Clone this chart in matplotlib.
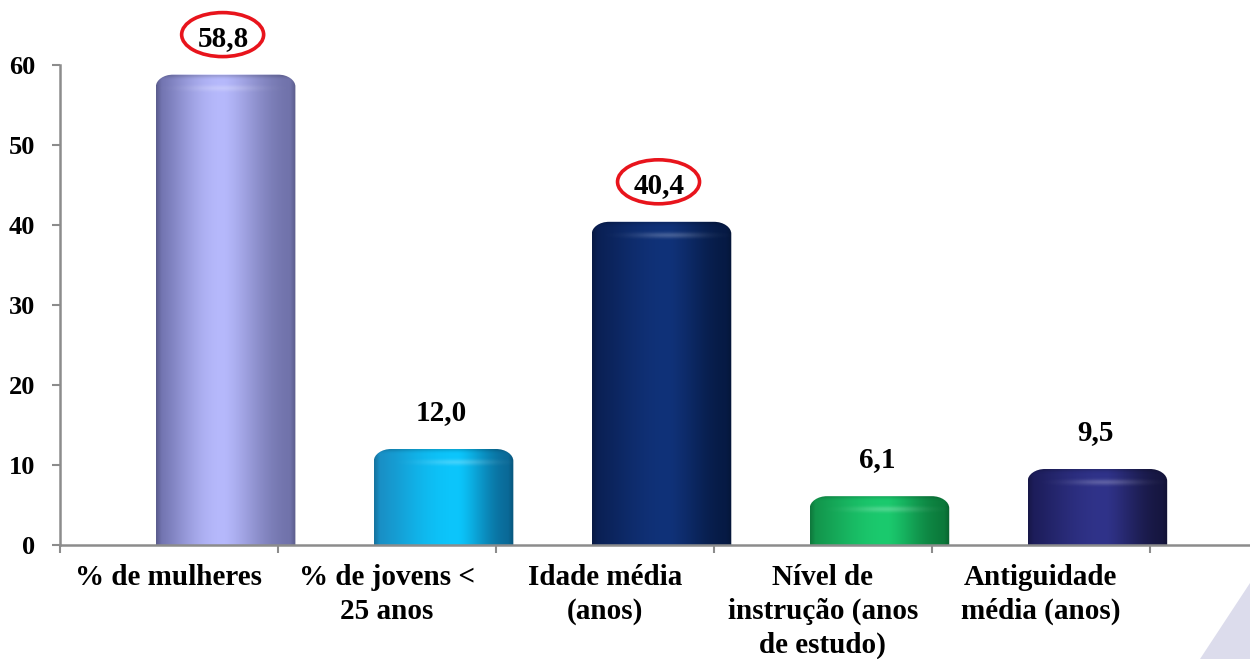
import numpy as np
import matplotlib
matplotlib.use("Agg")
import matplotlib.pyplot as plt
from matplotlib.path import Path
from matplotlib.patches import PathPatch, Ellipse, Polygon
from matplotlib.colors import to_rgb
from matplotlib.transforms import ScaledTranslation

# ---------------- data ----------------
categories = ["% de mulheres", "% de jovens <\n25 anos", "Idade média\n(anos)",
              "Nível de\ninstrução (anos\nde estudo)", "Antiguidade\nmédia (anos)"]
values = [58.8, 12.0, 40.4, 6.1, 9.5]
value_labels = ["58,8", "12,0", "40,4", "6,1", "9,5"]
highlighted = [True, False, True, False, False]
yticks = [0, 10, 20, 30, 40, 50, 60]

# ---------------- styles ----------------
# (left edge, highlight, right edge, highlight position)
bar_colors = [
    ("#6e70ac", "#b6b9fc", "#7072aa", 0.48),
    ("#1a8cc2", "#0cc6fc", "#0a6896", 0.6),
    ("#0a1f52", "#103279", "#061a44", 0.55),
    ("#12924a", "#1bca6e", "#0b783a", 0.55),
    ("#1c1c58", "#30338a", "#16163f", 0.55),
]

plt.rcParams['font.family'] = ['Liberation Serif', 'DejaVu Serif']
plt.rcParams['font.weight'] = 'bold'

fig = plt.figure(figsize=(12.5, 6.59), dpi=100)
ax = fig.add_axes([60 / 1250, 1 - 545 / 659, 1 - 60 / 1250, 480 / 659])

ax.set_xlim(-0.5, 4.96)
ax.set_ylim(0, 60)

bar_w = 0.64
shift = 0.26
rx, ry = 0.08, 1.5


def profile(left, mid, right, peak, n=256):
    t = np.linspace(0, 1, n)
    L, M, R = (np.array(to_rgb(c)) for c in (left, mid, right))
    out = np.zeros((n, 3))
    for i, ti in enumerate(t):
        if ti <= peak:
            s = ti / peak
            s = np.sin(s * np.pi / 2) ** 1.3
            out[i] = L + (M - L) * s
        else:
            s = (ti - peak) / (1 - peak)
            s = np.sin(s * np.pi / 2) ** 1.4
            out[i] = M + (R - M) * s
    edge = np.clip(1 - np.minimum(t, 1 - t) / 0.04, 0, 1)
    out = out * (1 - 0.18 * edge[:, None])
    return out


for i, v in enumerate(values):
    c = i + shift
    x0, x1 = c - bar_w / 2, c + bar_w / 2
    verts = [
        (x0, 0), (x0, v - ry),
        (x0, v - ry * 0.45), (x0 + rx * 0.45, v), (x0 + rx, v),
        (x1 - rx, v),
        (x1 - rx * 0.45, v), (x1, v - ry * 0.45), (x1, v - ry),
        (x1, 0), (x0, 0),
    ]
    codes = [Path.MOVETO, Path.LINETO,
             Path.CURVE4, Path.CURVE4, Path.CURVE4,
             Path.LINETO,
             Path.CURVE4, Path.CURVE4, Path.CURVE4,
             Path.LINETO, Path.CLOSEPOLY]
    path = Path(verts, codes)
    patch = PathPatch(path, facecolor='none', edgecolor='none', zorder=2)
    ax.add_patch(patch)

    grad = profile(*bar_colors[i])[None, :, :]
    im = ax.imshow(grad, extent=(x0, x1, 0, v), aspect='auto',
                   interpolation='bilinear', zorder=2, origin='lower')
    im.set_clip_path(patch)

    # cap highlight (a soft lighter band near the top)
    H, W = 40, 200
    yy = np.linspace(0, 1, H)[:, None]
    xx = np.linspace(0, 1, W)[None, :]
    band = np.exp(-((yy - 0.45) / 0.12) ** 2)
    horiz = np.exp(-((xx - bar_colors[i][3]) / 0.25) ** 2)
    top_dark = np.exp(-((yy - 1.0) / 0.1) ** 2)
    cap = np.zeros((H, W, 4))
    cap[..., :3] = 1.0
    cap[..., 3] = 0.22 * band * horiz
    cap_h = 3.0
    im2 = ax.imshow(cap, extent=(x0, x1, v - cap_h, v), aspect='auto',
                    interpolation='bilinear', zorder=3, origin='lower')
    im2.set_clip_path(patch)
    capd = np.zeros((H, W, 4))
    capd[..., 3] = 0.15 * top_dark * np.ones_like(xx)
    im3 = ax.imshow(capd, extent=(x0, x1, v - cap_h, v), aspect='auto',
                    interpolation='bilinear', zorder=3, origin='lower')
    im3.set_clip_path(patch)

    # value labels
    ax.annotate(value_labels[i], xy=(c, v), xytext=(-2, 29),
                textcoords='offset pixels', ha='center', va='baseline',
                fontsize=21, fontweight='bold', color='black',
                annotation_clip=False, zorder=5)
    if highlighted[i]:
        tr = fig.dpi_scale_trans + ScaledTranslation(c, v, ax.transData)
        e = Ellipse((-0.03, 0.40), 0.82, 0.44, transform=tr, fill=False,
                    edgecolor='#e8141c', linewidth=2.6, clip_on=False, zorder=5)
        fig.add_artist(e)

ax.set_xlim(-0.5, 4.96)
ax.set_ylim(0, 60)

# axes styling
spine_color = '#8c8c8c'
for s in ['top', 'right']:
    ax.spines[s].set_visible(False)
for s in ['left', 'bottom']:
    ax.spines[s].set_color(spine_color)
    ax.spines[s].set_linewidth(1.8)

ax.set_yticks(yticks)
ax.set_yticklabels([str(t) for t in yticks], fontsize=19, fontweight='bold')
ax.tick_params(axis='y', direction='out', length=6, width=1.5, color=spine_color,
               pad=12)

ax.set_xticks(np.arange(-0.5, 5.0, 1.0))
ax.set_xticklabels([])
ax.tick_params(axis='x', which='major', direction='out', length=6, width=1.5,
               color=spine_color)
ax.set_xticks(np.arange(len(categories)), minor=True)
ax.set_xticklabels(categories, minor=True, fontsize=21, fontweight='bold',
                   linespacing=1.3)
ax.tick_params(axis='x', which='minor', length=0, pad=14)

# decorative triangle bottom-right
tri = Polygon([(1.0, 1 - 583 / 659), (1200 / 1250, 0.0), (1.0, 0.0)],
              closed=True, transform=fig.transFigure, facecolor='#dcdcec',
              edgecolor='none', zorder=0)
fig.add_artist(tri)

fig.savefig('out.png', dpi=100)
